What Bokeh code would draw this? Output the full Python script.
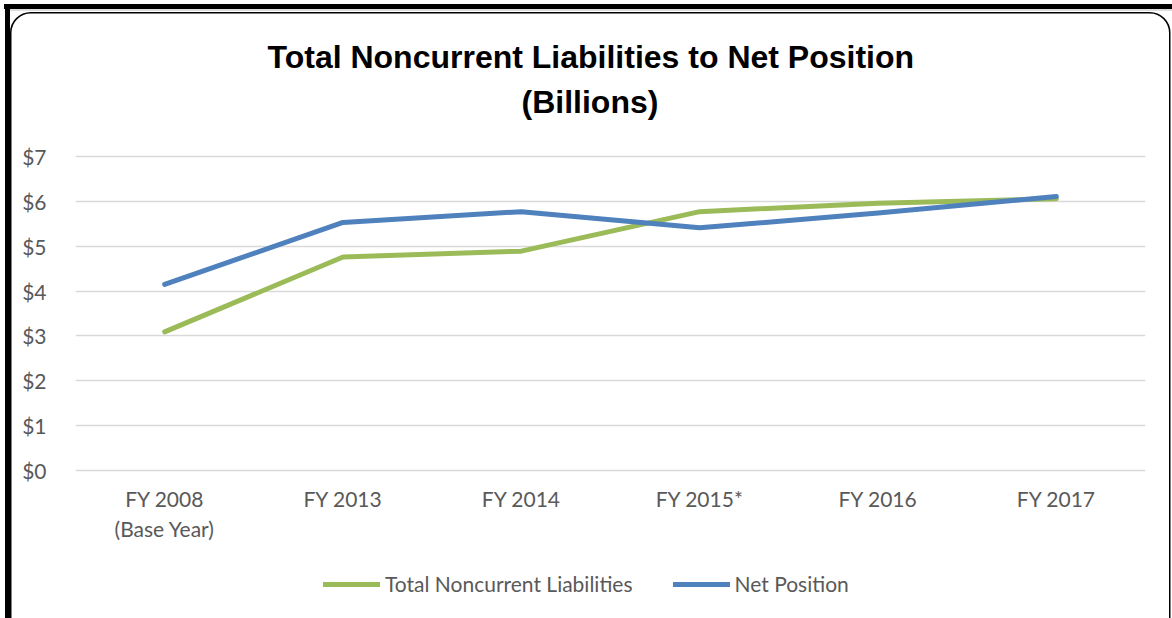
import base64
from bokeh.plotting import figure
from bokeh.models import (FactorRange, Legend, LegendItem, Title,
                          FixedTicker, NumeralTickFormatter)
from bokeh.embed import file_html
from bokeh.resources import INLINE

# ---- data ----
categories = ["FY 2008\n(Base Year)", "FY 2013", "FY 2014", "FY 2015*", "FY 2016", "FY 2017"]
noncurrent_liabilities = [3.09, 4.76, 4.89, 5.77, 5.96, 6.06]
net_position = [4.15, 5.53, 5.77, 5.41, 5.74, 6.11]
y_ticks = [0, 1, 2, 3, 4, 5, 6, 7]
title_lines = ["Total Noncurrent Liabilities to Net Position", "(Billions)"]
series_names = ["Total Noncurrent Liabilities", "Net Position"]

GREEN = "#9BBB59"
BLUE = "#4F81BD"
GRAY_TXT = "#595959"
FONT = "Lato"
TITLE_FONT = "Liberation Sans"

# plot area: $7 gridline at page y=156, $0 at y=470; the frame extends below $0
# so the category labels and the legend can live inside it
PX_PER_UNIT = 314 / 7.0
Y_TOP = y_ticks[-1] + 2 / PX_PER_UNIT
Y_BOTTOM = y_ticks[0] - 146 / PX_PER_UNIT

p = figure(frame_width=1070, frame_height=462,
           x_range=FactorRange(*categories, range_padding=0),
           y_range=(Y_BOTTOM, Y_TOP),
           output_backend="svg", toolbar_location=None,
           min_border_left=75, min_border_right=27,
           min_border_top=154, min_border_bottom=2)
p.outline_line_color = None
p.background_fill_alpha = 0
p.border_fill_alpha = 0

# decorative chart-box frame drawn as the background of the plot element
frame_svg = (
    '<svg xmlns="http://www.w3.org/2000/svg" width="1172" height="618">'
    '<rect x="0" y="0" width="1172" height="618" fill="white"/>'
    '<rect x="4" y="4" width="1168" height="5" fill="black"/>'
    '<rect x="5" y="4" width="5" height="614" fill="black"/>'
    '<line x1="10" y1="10" x2="1172" y2="10" stroke="#bbbbbb" stroke-width="1"/>'
    '<rect x="10.75" y="12.75" width="1159" height="700" rx="20" ry="20" '
    'fill="none" stroke="black" stroke-width="1.5"/>'
    '</svg>')
p.styles = {"background-image": "url('data:image/svg+xml;base64,"
            + base64.b64encode(frame_svg.encode()).decode() + "')",
            "background-repeat": "no-repeat"}

r1 = p.line(categories, noncurrent_liabilities, line_color=GREEN, line_width=5,
            line_cap="round", line_join="round")
r2 = p.line(categories, net_position, line_color=BLUE, line_width=5,
            line_cap="round", line_join="round")

# axes
p.yaxis.ticker = FixedTicker(ticks=y_ticks)
p.yaxis.formatter = NumeralTickFormatter(format="$0")
for ax in (p.xaxis[0], p.yaxis[0]):
    ax.axis_line_color = None
    ax.major_tick_line_color = None
    ax.minor_tick_line_color = None
    ax.major_tick_out = 0
    ax.major_label_text_font = FONT
    ax.major_label_text_font_size = "21px"
    ax.major_label_text_color = GRAY_TXT
p.yaxis.major_label_standoff = 29
p.xaxis.major_label_standoff = 15
p.xaxis.fixed_location = 0

p.xgrid.grid_line_color = None
p.ygrid.grid_line_color = "#D9D9D9"
p.ygrid.grid_line_width = 1.5

# titles (a blank spacer title keeps the subtitle off the plot area)
p.add_layout(Title(text=" ", text_font_size="1px", standoff=29), "above")
p.add_layout(Title(text=title_lines[1], align="left", offset=446, text_font=TITLE_FONT,
                   text_font_style="bold", text_font_size="32px",
                   text_color="black", standoff=5), "above")
p.title.text = title_lines[0]
p.title.align = "left"
p.title.offset = 192
p.title.text_font = TITLE_FONT
p.title.text_font_style = "bold"
p.title.text_font_size = "32px"
p.title.text_color = "black"
p.title.standoff = 9

# legend (inside the extended plot area, below the category labels)
legend = Legend(items=[LegendItem(label=series_names[0], renderers=[r1]),
                       LegendItem(label=series_names[1], renderers=[r2])],
                orientation="horizontal", location=(248, 20),
                margin=0, padding=0, spacing=40, glyph_width=57, glyph_height=20,
                label_standoff=5, label_text_font=FONT, label_text_font_size="21px",
                label_text_color=GRAY_TXT, border_line_color=None,
                background_fill_alpha=0)
p.add_layout(legend, "center")

open("out.html", "w").write(file_html(p, INLINE))
